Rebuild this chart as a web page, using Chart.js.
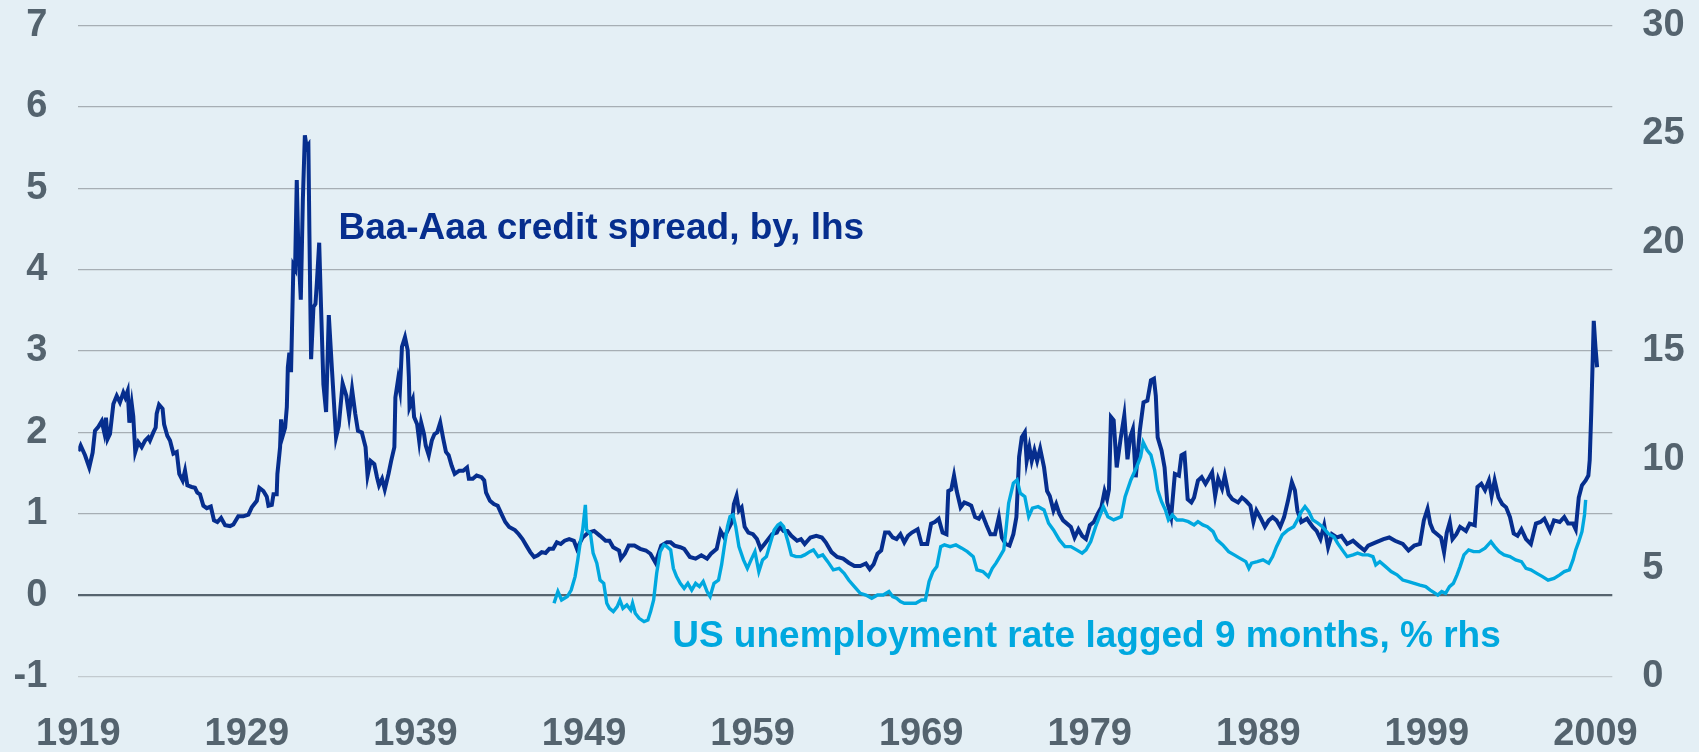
<!DOCTYPE html>
<html>
<head>
<meta charset="utf-8">
<script src="https://cdn.jsdelivr.net/npm/chart.js@4.4.1/dist/chart.umd.min.js"></script>
<style>
  html, body { margin: 0; padding: 0; background: #e4eff5; }
  #wrap { width: 1699px; height: 752px; }
</style>
</head>
<body>
<div id="wrap"><canvas id="c" width="1699" height="752"></canvas></div>
<script>
// ---- Data ----
const xTickYears = [1919, 1929, 1939, 1949, 1959, 1969, 1979, 1989, 1999, 2009];
const leftTicks = [-1, 0, 1, 2, 3, 4, 5, 6, 7];
const rightTicks = [0, 5, 10, 15, 20, 25, 30];

// Baa-Aaa credit spread (lhs), fractional year
const spreadYears = [
1919.00,1919.14,1919.40,1919.65,1919.85,1919.99,1920.19,1920.39,1920.54,1920.64,1920.74,1920.88,
1921.08,1921.28,1921.47,1921.67,1921.79,1921.93,1922.03,1922.17,1922.26,1922.38,1922.56,1922.76,1922.96,
1923.15,1923.25,1923.45,1923.59,1923.65,1923.79,1924.00,1924.09,1924.28,1924.44,1924.64,1924.84,1924.99,
1925.19,1925.33,1925.47,1925.73,1925.92,1926.06,1926.22,1926.42,1926.62,1926.86,1927.05,1927.25,1927.47,1927.71,
1928.00,1928.20,1928.49,1928.79,1929.09,1929.29,1929.59,1929.74,1929.98,1930.18,1930.28,1930.48,1930.58,1930.77,
1930.81,1930.97,1931.03,1931.13,1931.27,1931.37,1931.43,1931.52,1931.62,1931.76,1931.86,1931.96,1932.05,1932.20,
1932.32,1932.44,1932.55,1932.65,1932.71,1932.81,1932.95,1933.07,1933.15,1933.29,1933.40,1933.54,1933.70,1933.86,
1934.04,1934.29,1934.45,1934.68,1934.90,1935.06,1935.24,1935.43,1935.59,1935.82,1936.04,1936.16,1936.34,1936.56,
1936.72,1936.84,1937.02,1937.18,1937.40,1937.56,1937.75,1937.81,1937.97,1938.08,1938.20,1938.38,1938.54,1938.61,
1938.65,1938.84,1938.92,1939.10,1939.22,1939.34,1939.51,1939.61,1939.79,1939.97,1940.13,1940.29,1940.47,1940.65,
1940.81,1940.97,1941.15,1941.33,1941.60,1941.83,1942.06,1942.17,1942.40,1942.63,1942.92,1943.08,1943.19,1943.42,
1943.65,1943.88,1944.10,1944.33,1944.56,1944.90,1945.13,1945.35,1945.58,1945.81,1946.04,1946.26,1946.49,1946.72,
1946.94,1947.17,1947.39,1947.62,1947.85,1948.12,1948.40,1948.58,1948.92,1949.26,1949.60,1949.95,1950.28,1950.51,
1950.73,1951.08,1951.19,1951.42,1951.65,1951.99,1952.33,1952.67,1952.94,1953.24,1953.58,1953.92,1954.14,1954.37,
1954.71,1954.94,1955.28,1955.62,1955.96,1956.30,1956.53,1956.87,1957.10,1957.32,1957.55,1957.78,1957.89,1958.05,
1958.19,1958.35,1958.53,1958.75,1959.02,1959.26,1959.48,1959.71,1959.93,1960.16,1960.44,1960.61,1960.84,1961.07,
1961.30,1961.64,1961.87,1962.09,1962.43,1962.78,1963.11,1963.34,1963.68,1964.02,1964.37,1964.70,1965.04,1965.39,
1965.72,1965.95,1966.18,1966.41,1966.63,1966.86,1967.09,1967.31,1967.54,1967.77,1968.00,1968.22,1968.45,1968.79,
1969.02,1969.36,1969.59,1969.81,1970.04,1970.27,1970.50,1970.61,1970.79,1970.95,1971.11,1971.34,1971.56,1971.79,
1971.97,1972.20,1972.42,1972.61,1972.88,1973.11,1973.38,1973.61,1973.79,1974.01,1974.24,1974.47,1974.65,1974.81,
1974.97,1975.15,1975.26,1975.42,1975.56,1975.72,1975.88,1976.06,1976.29,1976.47,1976.63,1976.85,1977.01,1977.20,
1977.42,1977.65,1977.88,1978.10,1978.33,1978.55,1978.78,1979.01,1979.24,1979.47,1979.69,1979.88,1980.03,1980.14,
1980.26,1980.42,1980.60,1980.83,1981.05,1981.24,1981.40,1981.56,1981.73,1981.97,1982.19,1982.42,1982.63,1982.81,
1982.92,1983.03,1983.26,1983.44,1983.60,1983.83,1984.05,1984.29,1984.44,1984.62,1984.81,1985.03,1985.19,1985.42,
1985.64,1985.87,1986.10,1986.26,1986.44,1986.62,1986.85,1987.01,1987.24,1987.46,1987.80,1988.03,1988.26,1988.53,
1988.71,1988.89,1989.16,1989.39,1989.62,1989.85,1990.08,1990.30,1990.53,1990.76,1990.99,1991.17,1991.32,1991.55,
1991.89,1992.23,1992.46,1992.69,1992.91,1993.14,1993.37,1993.66,1993.93,1994.27,1994.62,1994.95,1995.30,1995.52,
1995.97,1996.43,1996.77,1997.11,1997.57,1997.91,1998.25,1998.59,1998.82,1999.04,1999.20,1999.38,1999.61,1999.84,
2000.02,2000.18,2000.36,2000.52,2000.75,2000.97,2001.32,2001.54,2001.84,2002.00,2002.23,2002.45,2002.68,2002.84,
2003.02,2003.25,2003.47,2003.70,2003.93,2004.15,2004.38,2004.61,2004.88,2005.17,2005.47,2005.74,2005.97,2006.31,
2006.54,2006.88,2007.15,2007.38,2007.67,2007.83,2008.01,2008.20,2008.42,2008.58,2008.66,2008.75,2008.90,2009.00,
2009.10
];
const spreadValues = [
1.77,1.84,1.72,1.57,1.75,2.02,2.07,2.14,2.00,2.18,1.92,1.98,
2.35,2.45,2.37,2.49,2.43,2.51,2.12,2.35,2.20,1.76,1.88,1.82,1.90,
1.94,1.90,2.00,2.06,2.23,2.34,2.29,2.10,1.96,1.90,1.74,1.76,1.49,
1.41,1.53,1.35,1.33,1.32,1.26,1.24,1.10,1.07,1.09,0.92,0.90,0.95,0.86,
0.85,0.87,0.97,0.97,0.99,1.08,1.16,1.32,1.28,1.21,1.10,1.11,1.24,1.24,
1.49,1.82,2.16,1.96,2.06,2.31,2.80,2.98,2.74,4.05,4.01,5.10,4.27,3.63,
4.85,5.65,5.50,5.53,4.44,2.90,3.54,3.58,3.83,4.33,3.54,2.59,2.25,3.44,
2.80,1.94,2.08,2.60,2.45,2.21,2.53,2.23,2.02,2.00,1.82,1.47,1.65,1.61,
1.45,1.35,1.43,1.30,1.49,1.65,1.82,2.43,2.65,2.52,3.05,3.17,3.01,2.68,
2.31,2.41,2.19,2.10,1.90,2.12,1.98,1.84,1.72,1.90,1.98,2.00,2.12,1.92,
1.76,1.72,1.59,1.49,1.53,1.53,1.57,1.43,1.43,1.47,1.45,1.41,1.26,1.16,
1.12,1.10,1.00,0.90,0.84,0.80,0.75,0.69,0.61,0.53,0.47,0.49,0.53,0.52,
0.57,0.57,0.65,0.63,0.67,0.69,0.67,0.57,0.71,0.77,0.79,0.73,0.67,0.67,
0.59,0.55,0.45,0.51,0.61,0.61,0.57,0.55,0.51,0.40,0.61,0.65,0.65,0.61,
0.59,0.57,0.47,0.45,0.49,0.45,0.51,0.57,0.79,0.71,0.81,0.90,1.12,1.22,
1.04,1.08,0.84,0.77,0.75,0.69,0.57,0.63,0.69,0.75,0.77,0.84,0.79,0.79,
0.73,0.67,0.69,0.63,0.71,0.73,0.71,0.65,0.53,0.47,0.45,0.40,0.36,0.36,
0.39,0.32,0.38,0.51,0.55,0.77,0.77,0.71,0.69,0.75,0.65,0.73,0.77,0.81,
0.63,0.63,0.88,0.90,0.94,0.77,0.75,1.28,1.30,1.47,1.28,1.08,1.14,1.12,
1.10,0.96,0.94,1.00,0.86,0.75,0.75,0.96,0.71,0.63,0.61,0.75,0.96,1.70,
1.94,2.00,1.65,1.82,1.65,1.78,1.65,1.80,1.57,1.28,1.22,1.04,1.12,1.00,
0.92,0.88,0.84,0.71,0.81,0.73,0.69,0.86,0.90,1.00,1.08,1.28,1.18,1.30,
2.19,2.15,1.57,1.92,2.21,1.67,1.94,2.04,1.45,2.02,2.37,2.39,2.64,2.66,
2.45,1.94,1.78,1.57,1.14,0.96,1.49,1.47,1.72,1.74,1.18,1.14,1.20,1.41,
1.45,1.37,1.45,1.51,1.22,1.43,1.31,1.47,1.24,1.18,1.14,1.20,1.16,1.10,
0.90,1.04,0.94,0.84,0.92,0.96,0.92,0.84,0.96,1.16,1.39,1.29,1.04,0.90,
0.94,0.84,0.79,0.69,0.86,0.59,0.75,0.71,0.73,0.63,0.67,0.61,0.55,0.61,
0.65,0.69,0.71,0.67,0.63,0.55,0.61,0.63,0.92,1.06,0.88,0.79,0.75,0.71,
0.53,0.77,0.90,0.69,0.75,0.84,0.79,0.88,0.86,1.33,1.37,1.29,1.41,1.22,
1.41,1.20,1.12,1.08,0.96,0.76,0.73,0.81,0.69,0.63,0.88,0.90,0.94,0.79,
0.92,0.90,0.96,0.88,0.88,0.81,1.20,1.35,1.41,1.47,1.66,2.23,3.37,3.05,
2.80
];

// US unemployment rate lagged 9 months (rhs), fractional year
const unempYears = [
1947.22,1947.45,1947.67,1948.01,1948.24,1948.47,1948.63,1948.77,1948.92,1949.08,1949.15,1949.38,1949.54,1949.76,
1949.95,1950.17,1950.35,1950.51,1950.74,1950.97,1951.13,1951.31,1951.54,1951.77,1951.88,1952.04,1952.27,1952.56,
1952.79,1952.95,1953.13,1953.31,1953.52,1953.74,1953.92,1954.14,1954.30,1954.49,1954.71,1954.94,1955.16,1955.39,
1955.62,1955.85,1956.07,1956.30,1956.48,1956.71,1956.98,1957.16,1957.32,1957.51,1957.66,1957.84,1958.00,1958.19,
1958.46,1958.69,1958.91,1959.14,1959.37,1959.59,1959.82,1960.05,1960.28,1960.50,1960.66,1960.84,1961.07,1961.30,
1961.57,1961.87,1962.09,1962.39,1962.61,1962.89,1963.16,1963.46,1963.79,1964.13,1964.43,1964.70,1965.04,1965.39,
1965.72,1966.07,1966.41,1966.75,1967.09,1967.31,1967.54,1967.77,1968.00,1968.34,1968.68,1969.02,1969.25,1969.47,
1969.70,1969.93,1970.16,1970.38,1970.72,1971.06,1971.41,1971.74,1972.09,1972.31,1972.66,1972.99,1973.22,1973.44,
1973.67,1973.90,1974.01,1974.19,1974.47,1974.69,1974.88,1975.15,1975.38,1975.60,1975.94,1976.29,1976.56,1976.85,
1977.20,1977.53,1977.88,1978.22,1978.55,1978.78,1979.06,1979.35,1979.58,1979.81,1980.08,1980.42,1980.87,1981.10,
1981.44,1981.79,1982.02,1982.17,1982.40,1982.63,1982.85,1983.03,1983.26,1983.49,1983.67,1983.90,1984.17,1984.51,
1984.85,1985.19,1985.42,1985.71,1985.98,1986.32,1986.55,1986.89,1987.24,1987.57,1987.92,1988.26,1988.44,1988.60,
1988.94,1989.28,1989.62,1989.85,1990.08,1990.42,1990.76,1991.10,1991.32,1991.55,1991.77,1992.00,1992.23,1992.53,
1992.80,1993.14,1993.48,1993.71,1993.98,1994.27,1994.62,1994.89,1995.19,1995.52,1995.80,1995.97,1996.21,1996.55,
1996.88,1997.23,1997.57,1997.91,1998.25,1998.59,1998.93,1999.20,1999.50,1999.65,1999.88,2000.11,2000.34,2000.57,
2000.79,2000.97,2001.20,2001.48,2001.77,2002.11,2002.45,2002.80,2003.02,2003.29,2003.58,2003.93,2004.27,2004.61,
2004.88,2005.17,2005.52,2005.86,2006.19,2006.54,2006.88,2007.15,2007.45,2007.67,2007.83,2008.01,2008.20,2008.35,
2008.42
];
const unempValues = [
3.38,3.92,3.53,3.69,3.99,4.61,5.38,6.14,6.76,7.91,6.76,6.60,5.69,5.23,
4.45,4.30,3.38,3.15,3.00,3.23,3.53,3.15,3.30,3.07,3.38,2.92,2.69,2.54,
2.61,3.00,3.53,4.76,5.76,6.07,5.99,5.84,4.99,4.61,4.30,4.07,4.30,3.99,
4.30,4.15,4.38,3.92,3.69,4.30,4.45,5.15,5.99,6.91,7.37,7.45,6.91,5.99,
5.38,4.99,5.38,5.76,4.84,5.38,5.53,6.14,6.76,6.99,7.07,6.91,6.30,5.61,
5.53,5.53,5.61,5.76,5.84,5.53,5.61,5.30,4.92,4.99,4.76,4.45,4.15,3.84,
3.76,3.61,3.76,3.76,3.92,3.69,3.61,3.46,3.38,3.38,3.38,3.53,3.53,4.38,
4.84,5.07,5.99,6.07,5.99,6.07,5.92,5.76,5.53,4.92,4.84,4.61,4.99,5.23,
5.53,5.84,6.60,7.99,8.91,9.06,8.45,8.29,7.37,7.76,7.83,7.68,7.07,6.76,
6.30,5.99,5.99,5.84,5.69,5.84,6.22,6.91,7.37,7.83,7.37,7.22,7.37,8.29,
9.06,9.67,10.13,10.80,10.44,10.21,9.52,8.60,8.06,7.68,7.22,7.45,7.22,7.22,
7.14,6.99,7.14,6.99,6.91,6.68,6.30,6.07,5.76,5.61,5.45,5.30,4.99,5.23,
5.30,5.38,5.23,5.53,5.99,6.53,6.76,6.91,7.22,7.60,7.83,7.60,7.22,7.07,
6.91,6.60,6.45,6.14,5.84,5.53,5.61,5.69,5.61,5.61,5.53,5.15,5.30,5.07,
4.84,4.69,4.45,4.38,4.30,4.22,4.15,3.99,3.84,3.76,3.92,3.84,4.15,4.30,
4.69,5.07,5.61,5.84,5.76,5.76,5.92,6.22,5.99,5.76,5.61,5.53,5.38,5.30,
4.99,4.92,4.76,4.61,4.45,4.53,4.69,4.84,4.92,5.38,5.84,6.22,6.68,7.45,
8.14
];

const spreadLabel = 'Baa-Aaa credit spread, by, lhs';
const unempLabel = 'US unemployment rate lagged 9 months, % rhs';

// ---- Styling ----
const BG = '#e4eff5';
const DARK = '#062e8e';
const LIGHT = '#00a8df';
const AXIS_TXT = '#54636e';
const FONT_FAMILY = '"Liberation Sans", Arial, Helvetica, sans-serif';

const bgPlugin = {
  id: 'bg',
  beforeDraw(chart) {
    const c = chart.ctx;
    c.save();
    c.fillStyle = BG;
    c.fillRect(0, 0, chart.width, chart.height);
    c.restore();
  }
};

const annotPlugin = {
  id: 'annot',
  afterDatasetsDraw(chart) {
    const c = chart.ctx;
    const xs = chart.scales.x, yl = chart.scales.yL;
    c.save();
    c.font = 'bold 37px ' + FONT_FAMILY;
    c.textBaseline = 'alphabetic';
    c.textAlign = 'left';
    c.fillStyle = DARK;
    c.fillText(spreadLabel, xs.getPixelForValue(1934.43), yl.getPixelForValue(4.37));
    c.fillStyle = LIGHT;
    c.fillText(unempLabel, xs.getPixelForValue(1954.23), yl.getPixelForValue(-0.64));
    c.restore();
  }
};

function fixY(width) {
  return s => { s.width = width; s.paddingTop = 0; s.paddingBottom = 0; };
}

const ctx = document.getElementById('c').getContext('2d');
new Chart(ctx, {
  type: 'line',
  data: {
    datasets: [
      {
        label: unempLabel,
        data: unempYears.map((x, i) => ({ x: x, y: unempValues[i] })),
        yAxisID: 'yR',
        borderColor: LIGHT,
        borderWidth: 3.4,
        pointRadius: 0,
        tension: 0,
        fill: false
      },
      {
        label: spreadLabel,
        data: spreadYears.map((x, i) => ({ x: x, y: spreadValues[i] })),
        yAxisID: 'yL',
        borderColor: DARK,
        borderWidth: 4,
        pointRadius: 0,
        tension: 0,
        fill: false
      }
    ]
  },
  options: {
    responsive: false,
    animation: false,
    devicePixelRatio: 1,
    layout: { padding: { top: 25.3, left: 0, right: 0, bottom: 0 } },
    plugins: { legend: { display: false }, tooltip: { enabled: false } },
    scales: {
      x: {
        type: 'linear',
        min: 1919,
        max: 2010,
        afterBuildTicks: s => { s.ticks = xTickYears.map(v => ({ value: v })); },
        afterFit: s => { s.height = 75.3; s.paddingLeft = 0; s.paddingRight = 0; },
        grid: { display: false, drawTicks: false },
        border: { display: false },
        ticks: {
          autoSkip: false,
          maxRotation: 0,
          padding: 35,
          color: AXIS_TXT,
          font: { family: FONT_FAMILY, size: 38, weight: 'bold' },
          callback: v => String(v)
        }
      },
      yL: {
        type: 'linear',
        position: 'left',
        min: -1,
        max: 7,
        afterBuildTicks: s => { s.ticks = leftTicks.map(v => ({ value: v })); },
        afterFit: fixY(78.3),
        border: { display: false },
        grid: {
          drawTicks: false,
          color: c => c.tick.value === 0 ? '#56646e' : (c.tick.value === -1 ? '#c2cacf' : '#a6aeb4'),
          lineWidth: c => c.tick.value === 0 ? 2.2 : 1.3
        },
        ticks: {
          padding: 31,
          color: AXIS_TXT,
          font: { family: FONT_FAMILY, size: 38, weight: 'bold' },
          callback: v => String(v)
        }
      },
      yR: {
        type: 'linear',
        position: 'right',
        min: 0,
        max: 30,
        afterBuildTicks: s => { s.ticks = rightTicks.map(v => ({ value: v })); },
        afterFit: fixY(86.7),
        border: { display: false },
        grid: { display: false, drawTicks: false },
        ticks: {
          padding: 30,
          color: AXIS_TXT,
          font: { family: FONT_FAMILY, size: 38, weight: 'bold' },
          callback: v => String(v)
        }
      }
    }
  },
  plugins: [bgPlugin, annotPlugin]
});
</script>
</body>
</html>
